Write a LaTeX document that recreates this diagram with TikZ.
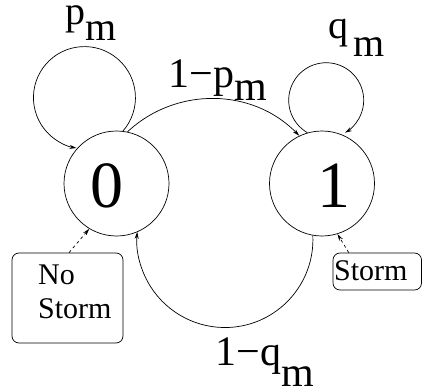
\documentclass[tikz,border=0pt]{standalone}
\usepackage{fontspec}
\setmainfont{Liberation Serif}
\usetikzlibrary{arrows.meta}

\begin{document}
\begin{tikzpicture}[
	x=1pt, y=-1pt,
	state/.style={
		circle,
		draw,
		line width=0.7pt,
		inner sep=0pt,
		minimum size=105pt
	},
	statenum/.style={font=\fontsize{66}{66}\selectfont, inner sep=0pt, anchor=base},
	prob/.style={font=\fontsize{40}{40}\selectfont, inner sep=0pt, anchor=base west},
	inbox/.style={draw, line width=0.7pt, rounded corners=7pt, inner sep=0pt},
	boxtext/.style={font=\fontsize{30}{34}\selectfont, inner sep=0pt, anchor=base west, align=left},
	trans/.style={line width=0.7pt, -{Stealth[length=7pt, width=4pt]}},
	cause/.style={trans, dashed},
]

\useasboundingbox (0,0) rectangle (422,390);

% states
\node[state] (s0) at (116.5,183.5) {};
\node[state] (s1) at (322,183.5) {};
\node[statenum] (n0) at (107,207) {0};
\node[statenum] (n1) at (333.5,207) {1};

% self loops
\draw[trans] (s0.83) arc[start angle=-41, end angle=261, radius=51pt];
\draw[trans] (s1.106) arc[start angle=240, end angle=-60, radius=37.5pt];

% transitions between the states
\draw[trans] (s0.78) arc[start angle=133, end angle=44.4, radius=123pt];
\draw[trans] (s1.260) arc[start angle=2.6, end angle=-185, radius=88pt];

% probabilities
\node[prob] (lp) at (65,25) {p\raisebox{-.4em}{m}};
\node[prob] (lq) at (328,39) {q\kern5pt\raisebox{-.45em}{m}};
\node[prob, font=\fontsize{42}{42}\selectfont] (lpp) at (168.4,88) {1−p\raisebox{-.3em}{m}};
\node[prob, font=\fontsize{42}{42}\selectfont] (lqq) at (215.3,365) {1−q\raisebox{-.52em}{m}};

% weather boxes
\node[inbox, minimum width=111pt, minimum height=90pt] (nsbox) at (67.5,298) {};
\node[boxtext] (nstext) at (38,318) {No\\Storm};
\node[inbox, minimum width=88.5pt, minimum height=37pt] (sbox) at (377.25,271.5) {};
\node[boxtext] (stext) at (334,280) {Storm};

\draw[cause] ([xshift=1.5pt]nsbox.north) -- (s0.239);
\draw[cause] ([xshift=-28.5pt]sbox.north) -- (s1.287);

\end{tikzpicture}
\end{document}
